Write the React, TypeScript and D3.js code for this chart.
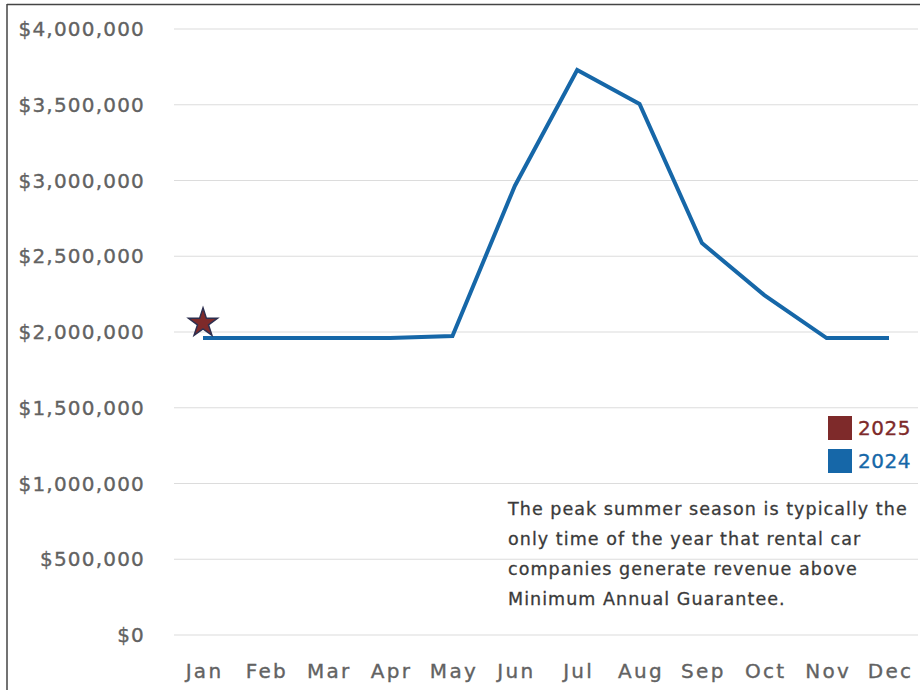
import React from "react";
import * as d3 from "d3";

const months = ["Jan", "Feb", "Mar", "Apr", "May", "Jun", "Jul", "Aug", "Sep", "Oct", "Nov", "Dec"];
const revenue2024 = [1960000, 1960000, 1960000, 1960000, 1974000, 2964000, 3729000, 3505000, 2587000, 2244000, 1960000, 1960000];
const revenue2025 = [2059000];
const yTicks = [0, 500000, 1000000, 1500000, 2000000, 2500000, 3000000, 3500000, 4000000];
const legendItems = [
  { label: "2025", color: "#7e2a2a" },
  { label: "2024", color: "#1667a8" },
];
const noteLines = [
  "The peak summer season is typically the",
  "only time of the year that rental car",
  "companies generate revenue above",
  "Minimum Annual Guarantee.",
];

const W = 920;
const H = 690;
const FONT = "'DejaVu Sans', sans-serif";

export default function App() {
  const x = d3.scalePoint<string>().domain(months).range([203, 889]);
  const y = d3.scaleLinear().domain([0, 4000000]).range([635, 29]);
  const fmt = (v: number) => "$" + d3.format(",")(v);

  const line = d3
    .line<number>()
    .x((_, i) => x(months[i]) as number)
    .y((d) => y(d));

  const star = d3.symbol().type(d3.symbolStar).size(260)();

  return (
    <svg
      width={W}
      height={H}
      style={{ position: "absolute", left: 0, top: 0, background: "#fff" }}
      fontFamily={FONT}
    >
      <rect x={0} y={0} width={W} height={H} fill="#fff" />
      {/* frame */}
      <line x1={7} y1={4.5} x2={W} y2={4.5} stroke="#444" strokeWidth={1.5} />
      <line x1={7} y1={4} x2={7} y2={H} stroke="#444" strokeWidth={1.5} />

      {yTicks.map((t) => (
        <g key={t}>
          <line x1={174} x2={918} y1={y(t)} y2={y(t)} stroke="#dcdcdc" strokeWidth={1.2} />
          <text x={145} y={y(t)} dy="0.35em" textAnchor="end" fontSize={20} letterSpacing={1.2} fill="#626262" stroke="#626262" strokeWidth={0.35}>
            {fmt(t)}
          </text>
        </g>
      ))}

      {months.map((m) => (
        <text key={m} x={(x(m) as number) + 1.5} y={671} dy="0.35em" textAnchor="middle" fontSize={20} letterSpacing={2.3} fill="#626262" stroke="#626262" strokeWidth={0.35}>
          {m}
        </text>
      ))}

      <path d={line(revenue2024) || ""} fill="none" stroke="#1667a8" strokeWidth={4} strokeLinejoin="miter" />

      {revenue2025.map((v, i) => (
        <path
          key={i}
          d={star || ""}
          transform={`translate(${x(months[i])},${y(v)})`}
          fill="#7e2a2a"
          stroke="#2d2f4f"
          strokeWidth={1.5}
        />
      ))}

      {legendItems.map((it, i) => (
        <g key={it.label} transform={`translate(828,${416 + i * 33})`}>
          <rect width={24} height={24} fill={it.color} />
          <text x={30} y={12} dy="0.35em" fontSize={20} letterSpacing={0.5} fill={it.color} stroke={it.color} strokeWidth={0.35}>
            {it.label}
          </text>
        </g>
      ))}

      {noteLines.map((l, i) => (
        <text key={i} x={508} y={509 + i * 30} dy="0.35em" fontSize={17.5} letterSpacing={1.05} fill="#3a3a3a" stroke="#3a3a3a" strokeWidth={0.3}>
          {l}
        </text>
      ))}
    </svg>
  );
}
